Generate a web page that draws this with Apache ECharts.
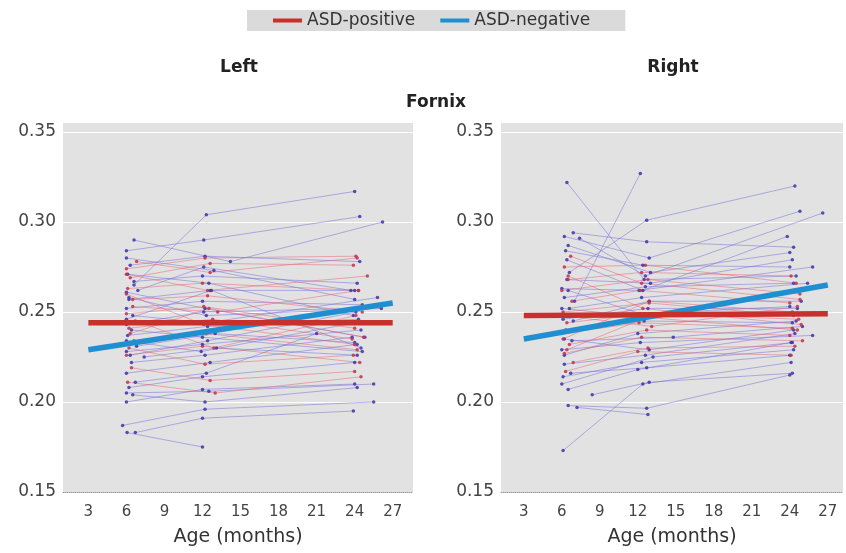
<!DOCTYPE html>
<html>
<head>
<meta charset="utf-8">
<script src="https://cdn.jsdelivr.net/npm/echarts@6/dist/echarts.min.js"></script>
<style>html,body{margin:0;padding:0;background:#fff;}#c{width:846px;height:553px;}</style>
</head>
<body>
<div id="c"></div>
<script>
// ---- data ----
const xTicks = [3, 6, 9, 12, 15, 18, 21, 24, 27];
const yTicks = [0.15, 0.20, 0.25, 0.30, 0.35];
const groupNames = ['ASD-positive', 'ASD-negative'];
const panelTitles = ['Left', 'Right'];
const mainTitle = 'Fornix';
const xName = 'Age (months)';

// individual trajectories: [age, FA]
const leftNeg = [
  [[6.6,0.265],[12.3,0.304],[24.0,0.317]],
  [[6.6,0.290],[14.2,0.278],[26.2,0.300]],
  [[6.0,0.284],[12.1,0.290],[24.4,0.303]],
  [[5.7,0.187],[12.2,0.196],[25.5,0.200]],
  [[6.05,0.183],[12.0,0.175]],
  [[6.7,0.183],[12.0,0.191],[23.9,0.195]],
  [[6.0,0.205],[12.5,0.206],[25.5,0.210]],
  [[6.2,0.208],[12.0,0.214],[24.0,0.222]],
  [[6.0,0.216],[12.6,0.222],[24.2,0.232]],
  [[6.4,0.222],[12.2,0.226],[23.8,0.236]],
  [[6.0,0.228],[12.0,0.232],[24.5,0.240]],
  [[6.8,0.231],[13.0,0.238],[24.0,0.233]],
  [[6.1,0.237],[12.4,0.242],[24.3,0.246]],
  [[6.0,0.243],[12.1,0.250],[24.0,0.252]],
  [[6.5,0.248],[12.3,0.244],[25.8,0.258]],
  [[6.0,0.252],[12.0,0.256],[24.6,0.254]],
  [[6.2,0.257],[12.6,0.262],[24.0,0.262]],
  [[6.0,0.261],[12.2,0.252],[24.8,0.236]],
  [[6.6,0.267],[12.0,0.270],[24.2,0.266]],
  [[6.1,0.271],[12.5,0.266],[23.9,0.248]],
  [[6.3,0.276],[12.2,0.281],[24.4,0.278]],
  [[6.0,0.280],[12.9,0.273],[24.0,0.257]],
  [[6.7,0.211],[12.3,0.216],[21.0,0.238]],
  [[6.0,0.200],[12.0,0.207],[24.0,0.210]],
  [[7.4,0.225],[13.1,0.230],[24.2,0.226]],
  [[6.4,0.240],[12.0,0.236],[24.6,0.228]],
  [[6.0,0.234],[11.9,0.228],[24.0,0.244]],
  [[6.2,0.258],[12.3,0.248],[26.1,0.252]],
  [[6.3,0.226],[12.4,0.234],[24.1,0.250]],
  [[6.9,0.262],[12.1,0.275],[23.7,0.262]],
  [[6.0,0.246],[12.7,0.262],[24.5,0.230]],
  [[6.5,0.204],[12.2,0.200],[24.2,0.208]]
];
const leftPos = [
  [[6.0,0.274],[12.2,0.280],[24.1,0.281]],
  [[6.3,0.269],[12.6,0.277],[23.9,0.276]],
  [[6.1,0.263],[12.0,0.266],[24.3,0.262]],
  [[6.5,0.257],[12.4,0.259],[24.6,0.250]],
  [[6.0,0.249],[12.1,0.253],[24.0,0.241]],
  [[6.2,0.241],[12.8,0.246],[23.8,0.235]],
  [[6.6,0.234],[12.3,0.238],[24.2,0.229]],
  [[6.0,0.226],[12.0,0.231],[24.4,0.222]],
  [[6.4,0.219],[12.6,0.212],[24.0,0.217]],
  [[6.1,0.211],[13.0,0.205],[24.5,0.214]],
  [[6.0,0.271],[12.4,0.262],[25.0,0.270]],
  [[6.7,0.245],[12.9,0.230],[24.1,0.248]],
  [[6.2,0.230],[12.2,0.221],[23.9,0.226]],
  [[6.5,0.253],[13.2,0.250],[24.3,0.262]],
  [[6.3,0.238],[12.5,0.252],[24.7,0.236]],
  [[6.0,0.260],[12.1,0.243],[24.0,0.232]],
  [[6.8,0.278],[12.6,0.272],[24.2,0.280]]
];
const rightNeg = [
  [[6.4,0.322],[12.5,0.268],[24.5,0.270]],
  [[7.0,0.256],[12.2,0.327]],
  [[6.6,0.272],[12.7,0.301],[24.4,0.320]],
  [[6.2,0.292],[12.9,0.280],[24.8,0.306]],
  [[6.9,0.294],[12.7,0.289],[24.3,0.286]],
  [[7.4,0.291],[12.6,0.270],[26.6,0.305]],
  [[6.5,0.287],[13.0,0.272],[24.0,0.283]],
  [[6.4,0.279],[12.4,0.262],[23.8,0.292]],
  [[6.1,0.173],[12.4,0.210],[24.1,0.222]],
  [[6.5,0.198],[12.7,0.1965],[24.0,0.215]],
  [[7.2,0.197],[12.8,0.193]],
  [[8.4,0.204],[12.9,0.211],[24.2,0.216]],
  [[6.1,0.214],[12.3,0.222],[24.3,0.229]],
  [[6.5,0.207],[12.0,0.218],[24.1,0.233]],
  [[6.2,0.221],[12.6,0.226],[24.4,0.238]],
  [[6.0,0.229],[12.2,0.233],[25.8,0.237]],
  [[6.8,0.234],[14.8,0.236],[25.0,0.242]],
  [[6.3,0.240],[12.5,0.245],[24.2,0.244]],
  [[6.1,0.246],[12.8,0.252],[24.6,0.252]],
  [[6.6,0.252],[12.3,0.258],[25.4,0.266]],
  [[6.2,0.258],[12.6,0.264],[24.3,0.266]],
  [[6.0,0.263],[12.1,0.262],[25.8,0.275]],
  [[6.4,0.268],[13.0,0.266],[24.2,0.279]],
  [[6.7,0.216],[12.7,0.219],[24.0,0.226]],
  [[6.2,0.226],[12.0,0.238],[24.5,0.245]],
  [[6.0,0.210],[13.2,0.225],[24.2,0.233]],
  [[6.9,0.245],[12.9,0.256],[24.9,0.256]],
  [[6.3,0.284],[12.4,0.276],[24.0,0.275]],
  [[6.0,0.252],[12.6,0.247],[24.4,0.262]],
  [[6.5,0.262],[12.2,0.249],[24.0,0.253]],
  [[6.2,0.235],[12.9,0.229],[24.3,0.240]]
];
const rightPos = [
  [[6.2,0.275],[12.6,0.276],[24.5,0.266]],
  [[6.5,0.268],[12.3,0.272],[24.1,0.270]],
  [[6.0,0.262],[12.8,0.268],[24.8,0.260]],
  [[6.8,0.256],[12.2,0.262],[24.0,0.255]],
  [[6.1,0.250],[12.9,0.255],[24.3,0.248]],
  [[6.4,0.244],[12.5,0.249],[24.7,0.246]],
  [[6.0,0.238],[12.1,0.244],[24.2,0.241]],
  [[6.6,0.232],[12.7,0.240],[24.0,0.237]],
  [[6.2,0.227],[12.3,0.236],[25.0,0.234]],
  [[6.9,0.222],[12.8,0.230],[24.4,0.231]],
  [[6.3,0.217],[12.0,0.228],[24.1,0.226]],
  [[6.0,0.248],[13.1,0.242],[24.6,0.253]],
  [[6.5,0.270],[12.4,0.252],[24.9,0.243]],
  [[6.1,0.235],[12.9,0.256],[24.2,0.250]],
  [[6.4,0.229],[12.7,0.247],[24.6,0.240]],
  [[6.7,0.281],[12.3,0.266],[24.8,0.257]]
];

// fitted group trajectories
const fitAges = [3, 27];
const leftFitPos = [0.244, 0.244];
const leftFitNeg = [0.229, 0.255];
const rightFitPos = [0.248, 0.249];
const rightFitNeg = [0.235, 0.265];

// ---- styles ----
const FONT = '"DejaVu Sans", sans-serif';
const posColor = '#c8302c';
const negColor = '#1f8fd0';
const posThin = 'rgba(226,96,110,0.55)';
const negThin = 'rgba(112,104,212,0.55)';
const posDot = 'rgba(190,50,80,0.85)';
const negDot = 'rgba(60,50,170,0.85)';

const grids = [
  {left: 63, top: 123, width: 350, height: 369, backgroundColor: '#e2e2e2', show: true, borderWidth: 0},
  {left: 501, top: 123, width: 342, height: 369, backgroundColor: '#e2e2e2', show: true, borderWidth: 0}
];
const xRanges = [[1.0, 28.6], [1.2, 28.2]];

function xAxisCfg(i) {
  return {
    gridIndex: i, type: 'value', min: xRanges[i][0], max: xRanges[i][1],
    name: xName, nameLocation: 'middle', nameGap: 36,
    nameTextStyle: {fontFamily: FONT, fontSize: 19, color: '#333'},
    axisLine: {show: true, lineStyle: {color: '#9a9a9a', type: 'dotted', width: 1}},
    axisTick: {show: false, customValues: xTicks},
    axisLabel: {customValues: xTicks, fontFamily: FONT, fontSize: 15, color: '#444', margin: 13},
    splitLine: {show: false}
  };
}
function yAxisCfg(i) {
  return {
    gridIndex: i, type: 'value', min: 0.15, max: 0.355,
    axisLine: {show: false},
    axisTick: {show: false, customValues: yTicks},
    axisLabel: {customValues: yTicks, formatter: v => v.toFixed(2), fontFamily: FONT, fontSize: 17, color: '#444', margin: 7},
    splitLine: {show: true, lineStyle: {color: '#ffffff', width: 1.2}}
  };
}

const series = [];
function addSubjects(list, panel, thin, dot, tag) {
  list.forEach((pts, k) => {
    series.push({
      name: tag + '-' + panel + '-' + k, type: 'line', xAxisIndex: panel, yAxisIndex: panel,
      data: pts, symbol: 'circle', symbolSize: 3.5, showSymbol: true,
      lineStyle: {color: thin, width: 0.9}, itemStyle: {color: dot},
      silent: true, animation: false, z: 2
    });
  });
}
addSubjects(leftNeg, 0, negThin, negDot, 'neg');
addSubjects(leftPos, 0, posThin, posDot, 'pos');
addSubjects(rightNeg, 1, negThin, negDot, 'neg');
addSubjects(rightPos, 1, posThin, posDot, 'pos');

function addFit(name, vals, panel, color) {
  series.push({
    name: name, type: 'line', xAxisIndex: panel, yAxisIndex: panel,
    data: fitAges.map((a, j) => [a, vals[j]]), showSymbol: false, symbol: 'none',
    lineStyle: {color: color, width: 5.5, cap: 'butt'}, itemStyle: {color: color},
    silent: true, animation: false, z: 5
  });
}
addFit(groupNames[1], leftFitNeg, 0, negColor);
addFit(groupNames[0], leftFitPos, 0, posColor);
addFit(groupNames[1], rightFitNeg, 1, negColor);
addFit(groupNames[0], rightFitPos, 1, posColor);

const chart = echarts.init(document.getElementById('c'), null, {renderer: 'canvas'});
chart.setOption({
  animation: false,
  backgroundColor: '#ffffff',
  legend: {
    data: groupNames, left: 247, top: 10, padding: [2, 35, 2, 26], itemGap: 25,
    backgroundColor: '#dadada', icon: 'rect', itemWidth: 29, itemHeight: 4,
    selectedMode: false,
    textStyle: {fontFamily: FONT, fontSize: 17, color: '#333'}
  },
  graphic: [
    {type: 'text', x: 239, y: 68, style: {text: panelTitles[0], font: 'bold 17px ' + FONT, fill: '#222', textAlign: 'center', textVerticalAlign: 'middle'}},
    {type: 'text', x: 673, y: 68, style: {text: panelTitles[1], font: 'bold 17px ' + FONT, fill: '#222', textAlign: 'center', textVerticalAlign: 'middle'}},
    {type: 'text', x: 436, y: 103, style: {text: mainTitle, font: 'bold 17px ' + FONT, fill: '#222', textAlign: 'center', textVerticalAlign: 'middle'}}
  ],
  grid: grids,
  xAxis: [xAxisCfg(0), xAxisCfg(1)],
  yAxis: [yAxisCfg(0), yAxisCfg(1)],
  series: series
});
</script>
</body>
</html>
